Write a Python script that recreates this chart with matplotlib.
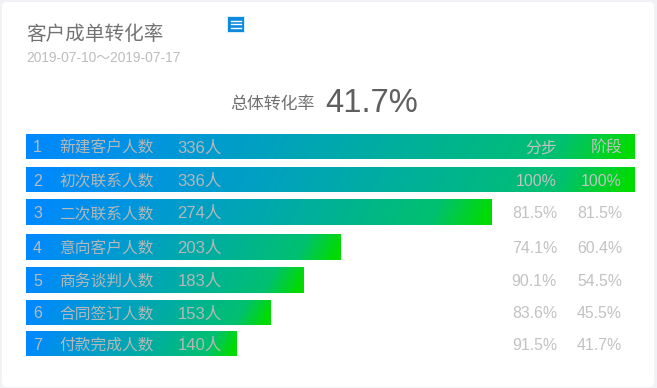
import numpy as np
import matplotlib
matplotlib.use('Agg')
import matplotlib.pyplot as plt
from matplotlib.colors import LinearSegmentedColormap
from matplotlib.patches import FancyBboxPatch, Rectangle

plt.rcParams['font.family'] = ['Liberation Sans', 'Noto Sans CJK SC', 'DejaVu Sans']

title = '客户成单转化率'
date_range = '2019-07-10～2019-07-17'
overall_label = '总体转化率'
overall_value = '41.7%'
stage_names = ['新建客户人数', '初次联系人数', '二次联系人数', '意向客户人数',
               '商务谈判人数', '合同签订人数', '付款完成人数']
stage_counts = [336, 336, 274, 203, 183, 153, 140]
# bar lengths in the picture are not proportional to the counts, read as % of full width
bar_share = [100, 100, 76.5, 51.7, 45.6, 40.2, 34.6]
step_rate = ['分步', '100%', '81.5%', '74.1%', '90.1%', '83.6%', '91.5%']
stage_rate = ['阶段', '100%', '81.5%', '60.4%', '54.5%', '45.5%', '41.7%']

W, H = 657, 388
bar_left, bar_full = 26, 609
row_top = [134, 167, 199, 234, 267, 300, 331]
row_bot = [159, 192, 225, 260, 293, 325, 356]

grad = LinearSegmentedColormap.from_list(
    'blue_green', [(0, '#0088ff'), (0.5, '#00a8ae'), (0.88, '#00c070'), (1, '#00dc00')])

fig = plt.figure(figsize=(W / 100, H / 100), dpi=100, facecolor='#f1f2f6')
ax = fig.add_axes([0, 0, 1, 1])
ax.set_xlim(0, W)
ax.set_ylim(H, 0)
ax.axis('off')

ax.add_patch(FancyBboxPatch((6, 6), 644, 377, boxstyle='round,pad=4,rounding_size=5',
                            fc='white', ec='none', zorder=0))

ax.text(26, 40, title, fontsize=14.1, color='#737373', va='baseline')
ax.text(26, 62, date_range, fontsize=9.9, color='#bdbdbd', va='baseline')

# little menu icon
ax.add_patch(Rectangle((227, 16), 18, 17, fc='#0b8ae0', ec='none', alpha=0.15, zorder=1))
ax.add_patch(Rectangle((228, 17), 16, 15, fc='#0b8ae0', ec='none', zorder=2))
for yy in [20.5, 24, 27.5]:
    ax.plot([231, 241], [yy, yy], color='white', lw=1.0, zorder=3)

ax.text(315, 109, overall_label, fontsize=12.2, color='#6f6f6f', va='baseline', ha='right')
ax.text(325, 112, overall_value, fontsize=23.5, color='#5f5f5f', va='baseline', ha='left')

xx, yy = np.meshgrid(np.linspace(0, 1, 400), np.linspace(0, 1, 30))
for i, name in enumerate(stage_names):
    top, bot = row_top[i], row_bot[i]
    w = bar_full * bar_share[i] / 100
    img = np.clip(xx + (yy - 0.5) * 12 / w, 0, 1)
    ax.imshow(img, cmap=grad, vmin=0, vmax=1, aspect='auto', interpolation='bilinear',
              extent=(bar_left, bar_left + w, bot, top), zorder=1)
    base = (top + bot) / 2 + 6
    ax.text(33, base, str(i + 1), fontsize=11.5, color='#b4bcc0', va='baseline', zorder=4)
    ax.text(59.5, base, name, fontsize=11.3, color='#b4b8b8', va='baseline', zorder=4)
    ax.text(177.5, base, f'{stage_counts[i]}人', fontsize=12, color='#b4b8b8', va='baseline', zorder=4)
    ax.text(557, base, step_rate[i], fontsize=11.4, color='#c2c2c2', va='baseline', ha='right', zorder=4)
    ax.text(622, base, stage_rate[i], fontsize=11.4, color='#c2c2c2', va='baseline', ha='right', zorder=4)

ax.set_xlim(0, W)
ax.set_ylim(H, 0)
fig.savefig('out.png', dpi=100, facecolor=fig.get_facecolor())
